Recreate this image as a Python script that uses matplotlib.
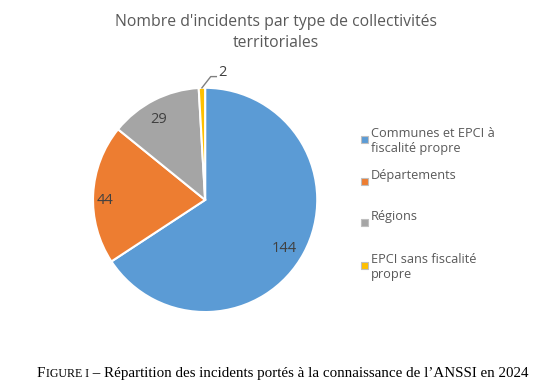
import matplotlib
matplotlib.use("Agg")
import matplotlib.pyplot as plt
from matplotlib.patches import Rectangle
import numpy as np

title = "Nombre d'incidents par type de collectivités\nterritoriales"
categories = ["Communes et EPCI à\nfiscalité propre", "Départements", "Régions",
              "EPCI sans fiscalité\npropre"]
values = [144, 44, 29, 2]
colors = ["#5B9BD5", "#ED7D31", "#A5A5A5", "#FFC000"]
caption_parts = [("F", 10.8), ("IGURE I", 8.6),
                 (" – Répartition des incidents portés à la connaissance de l’ANSSI en 2024", 10.8)]

FONT = "Open Sans"
TXT = "#595959"

fig = plt.figure(figsize=(5.47, 3.92), dpi=100)
fig.patch.set_facecolor("white")

ax = fig.add_axes([0.170, 0.204, 0.410, 0.572])
wedges, _ = ax.pie(values, colors=colors, startangle=90, counterclock=False,
                   radius=1.0, wedgeprops=dict(edgecolor="white", linewidth=1.5))
ax.set_xlim(-1, 1)
ax.set_ylim(-1, 1)
ax.set_aspect("equal")
ax.axis("off")

label_r = [0.82, 0.87, 0.86]
for w, v, r in zip(wedges[:3], values[:3], label_r):
    ang = np.deg2rad((w.theta1 + w.theta2) / 2)
    ax.text(r * np.cos(ang) - 0.02, r * np.sin(ang) - 0.045, str(v), ha="center",
            va="center", fontsize=10.5, color="#404040", family=FONT)

# small slice label with leader line
w = wedges[3]
ang = np.deg2rad((w.theta1 + w.theta2) / 2)
x0, y0 = np.cos(ang), np.sin(ang)
ax.plot([x0, 0.05, 0.10], [y0, 1.10, 1.10], color="#7F7F7F", lw=1, clip_on=False)
ax.text(0.12, 1.135, str(values[3]), ha="left", va="center", fontsize=10.5,
        color="#404040", family=FONT)

fig.text(0.505, 0.917, title, ha="center", va="center", fontsize=11.3, color=TXT,
         family=FONT, linespacing=1.45)

# legend
leg_tops = [130, 172, 213, 256]
for lab, col, top in zip(categories, colors, leg_tops):
    yf = 1 - (top + 9.5) / 392
    fig.patches.append(Rectangle((361 / 547, yf - 3.5 / 392), 7 / 547, 7 / 392,
                                 transform=fig.transFigure, facecolor=col,
                                 edgecolor="#BFBFBF", linewidth=0.8))
    fig.text(371 / 547, 1 - top / 392 + 0.008, lab, ha="left", va="top",
             fontsize=9.2, color=TXT, family=FONT, linespacing=1.25)

# caption with simulated small caps, all on one baseline
renderer = fig.canvas.get_renderer()
xpix = 37.0
ybase = 1 - 377 / 392
for s, fs in caption_parts:
    t = fig.text(xpix / 547, ybase, s, ha="left", va="baseline", fontsize=fs,
                 family="Liberation Serif", color="black")
    xpix += t.get_window_extent(renderer).width + 0.3

fig.savefig("out.png", dpi=100, facecolor="white")
